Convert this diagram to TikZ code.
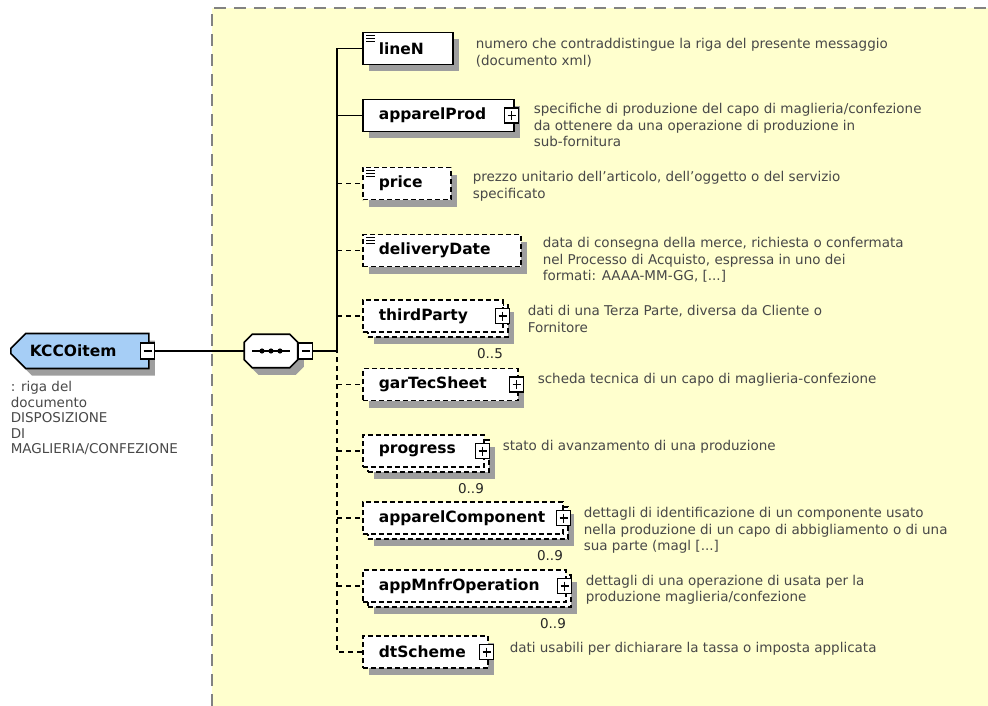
\documentclass[tikz,border=0pt]{standalone}
\usepackage{fontspec}
\setmainfont{DejaVu Sans}
\usetikzlibrary{shapes.misc,positioning}

\definecolor{bgyellow}{RGB}{255,255,206}
\definecolor{rootblue}{RGB}{166,206,246}
\definecolor{shadegray}{RGB}{158,158,158}
\definecolor{desctext}{RGB}{72,72,72}
\definecolor{framegray}{RGB}{130,130,130}

\begin{document}
\begin{tikzpicture}[x=1pt,y=-1pt,line width=1.5pt,
    box/.style={rectangle,draw,fill=white,line width=1.6pt,
      font=\fontsize{15.5}{18}\selectfont\bfseries,minimum height=32pt,
      inner xsep=16pt,inner ysep=0pt,align=left,anchor=west},
    elem/.style={box,
      preaction={fill=shadegray,draw=none,transform canvas={shift={(6pt,-7pt)}}}},
    opt elem/.style={elem,dash pattern=on 5pt off 3pt},
    many elem/.style={box,dash pattern=on 5pt off 3pt,
      preaction={fill=shadegray,draw=none,transform canvas={shift={(11pt,-12pt)}}},
      preaction={fill=white,draw,dash pattern=on 5pt off 3pt,
        transform canvas={shift={(5pt,-5pt)}}}},
    root/.style={chamfered rectangle,chamfered rectangle corners={north west,south west},
      chamfered rectangle xsep=9pt,chamfered rectangle ysep=9pt,draw,fill=rootblue,
      line width=1.6pt,font=\fontsize{15.5}{18}\selectfont\bfseries,minimum width=138pt,
      minimum height=35pt,text width=100pt,align=left,inner sep=0pt,anchor=west,
      preaction={fill=shadegray,draw=none,transform canvas={shift={(6pt,-7pt)}}}},
    seq/.style={rectangle,minimum width=52pt,minimum height=32pt,inner sep=0pt},
    pm box/.style={rectangle,draw,fill=white,line width=1.3pt,
      minimum width=14pt,minimum height=15pt,inner sep=0pt},
    plus/.style={pm box,path picture={
      \draw[line width=1.3pt] ([xshift=3pt]path picture bounding box.west)
        -- ([xshift=-3pt]path picture bounding box.east);
      \draw[line width=1.3pt] ([yshift=-3pt]path picture bounding box.north)
        -- ([yshift=3pt]path picture bounding box.south);}},
    minus/.style={pm box,minimum height=16pt,path picture={
      \draw[line width=1.3pt] ([xshift=3pt]path picture bounding box.west)
        -- ([xshift=-3pt]path picture bounding box.east);}},
    desc/.style={anchor=north west,align=left,inner sep=0pt,text=desctext,
      font=\fontsize{13.5}{16.5}\selectfont},
    mult/.style={inner sep=0pt,text=black!85,font=\fontsize{13.5}{16}\selectfont},
    opt link/.style={dash pattern=on 5pt off 4pt}]

  \useasboundingbox (0,0) rectangle (988,706);
  % sequence area
  \fill[bgyellow] (212,8) rectangle (988,706);
  \draw[framegray,line width=2pt,dash pattern=on 12pt off 8pt]
    (212,706) -- (212,8) -- (988,8);

  \node[root] (KCCO) at (10,351) {KCCOitem};
  \node[minus] (KCCOm) at ([xshift=-2pt]KCCO.east) {};
  \node[desc,font=\fontsize{13.5}{15.5}\selectfont] (KCCO-d) at (10,380.5)
    {: riga del\\documento\\DISPOSIZIONE\\DI\\MAGLIERIA/CONFEZIONE};

  % sequence compositor
  \node[seq] (SEQ) at (271,351) {};
  \filldraw[fill=white,line width=1.6pt,
      preaction={fill=shadegray,draw=none,transform canvas={shift={(6pt,-7pt)}}}]
    ([xshift=8pt]SEQ.north west) -- ([xshift=-8pt]SEQ.north east)
    -- ([yshift=-8pt]SEQ.north east) -- ([yshift=8pt]SEQ.south east)
    -- ([xshift=-8pt]SEQ.south east) -- ([xshift=8pt]SEQ.south west)
    -- ([yshift=8pt]SEQ.south west) -- ([yshift=-8pt]SEQ.north west) -- cycle;
  \draw ([xshift=-19pt]SEQ.center) -- ([xshift=19pt]SEQ.center);
  \foreach \dx in {-9,0,9} \fill ([xshift=\dx pt]SEQ.center) circle (2.6pt);
  \node[minus] (SEQm) at ([xshift=8pt]SEQ.east) {};
  \coordinate (J) at (337,351);

  % children
  \node[elem,text width=58pt] (lineN) at (362,48.5) {lineN};
  \node[elem,text width=119pt] (apparelProd) at (362,115.5) {apparelProd};
  \node[opt elem,text width=56pt] (price) at (362,183.5) {price};
  \node[opt elem,text width=126pt] (deliveryDate) at (362,250.5) {deliveryDate};
  \node[many elem,text width=108pt] (thirdParty) at (362,316) {thirdParty};
  \node[opt elem,text width=123pt] (garTecSheet) at (362,384.5) {garTecSheet};
  \node[many elem,text width=89pt] (progress) at (362,451) {progress};
  \node[many elem,text width=168pt] (apparelComponent) at (362,518) {apparelComponent};
  \node[many elem,text width=171pt] (appMnfrOperation) at (362,586) {appMnfrOperation};
  \node[opt elem,text width=93pt] (dtScheme) at (362,652) {dtScheme};

  \draw (KCCOm) -- (SEQ);
  \draw (SEQm) -- (J);
  \draw (lineN.west) -| (J);
  \draw[opt link] (dtScheme.west) -| (J);
  \draw (J |- apparelProd.west) -- (apparelProd.west);
  \foreach \n in {price,deliveryDate,thirdParty,garTecSheet,progress,
      apparelComponent,appMnfrOperation}
    \draw[opt link] (J |- \n.west) -- (\n.west);

  \foreach \n/\dx in {apparelProd/-3,thirdParty/-1,garTecSheet/-2,progress/-2,
      apparelComponent/0,appMnfrOperation/-2,dtScheme/-2}
    \node[plus] (\n-exp) at ([xshift=\dx pt]\n.east) {};

  \foreach \n in {lineN,price,deliveryDate}
    \foreach \k in {4,7,10}
      \draw[line width=1pt] ([shift={(4,\k)}]\n.north west) -- ++(9,0);

  \node[mult,below left=15pt and 0pt of thirdParty.south east] (thirdParty-n) {0..5};
  \node[mult,below left=15pt and 0pt of progress.south east] (progress-n) {0..9};
  \node[mult,below left=15pt and 0pt of apparelComponent.south east] (apparelComponent-n) {0..9};
  \node[mult,below left=15pt and 0pt of appMnfrOperation.south east] (appMnfrOperation-n) {0..9};

  \node[desc] (lineN-d) at (475,37.5)
    {numero che contraddistingue la riga del presente messaggio\\(documento xml)};
  \node[desc] (apparelProd-d) at (533,102.5)
    {specifiche di produzione del capo di maglieria/confezione\\da ottenere da una operazione di produzione in\\sub-fornitura};
  \node[desc] (price-d) at (472,170.5)
    {prezzo unitario dell'articolo, dell'oggetto o del servizio\\specificato};
  \node[desc] (deliveryDate-d) at (542,236.5)
    {data di consegna della merce, richiesta o confermata\\nel Processo di Acquisto, espressa in uno dei\\formati: AAAA-MM-GG, [...]};
  \node[desc] (thirdParty-d) at (527,304.5)
    {dati di una Terza Parte, diversa da Cliente o\\Fornitore};
  \node[desc] (garTecSheet-d) at (537,372.5)
    {scheda tecnica di un capo di maglieria-confezione};
  \node[desc] (progress-d) at (502,439)
    {stato di avanzamento di una produzione};
  \node[desc] (apparelComponent-d) at (583,506.5)
    {dettagli di identificazione di un componente usato\\nella produzione di un capo di abbigliamento o di una\\sua parte (magl [...]};
  \node[desc] (appMnfrOperation-d) at (585,574)
    {dettagli di una operazione di usata per la\\produzione maglieria/confezione};
  \node[desc] (dtScheme-d) at (509,641)
    {dati usabili per dichiarare la tassa o imposta applicata};
\end{tikzpicture}
\end{document}
